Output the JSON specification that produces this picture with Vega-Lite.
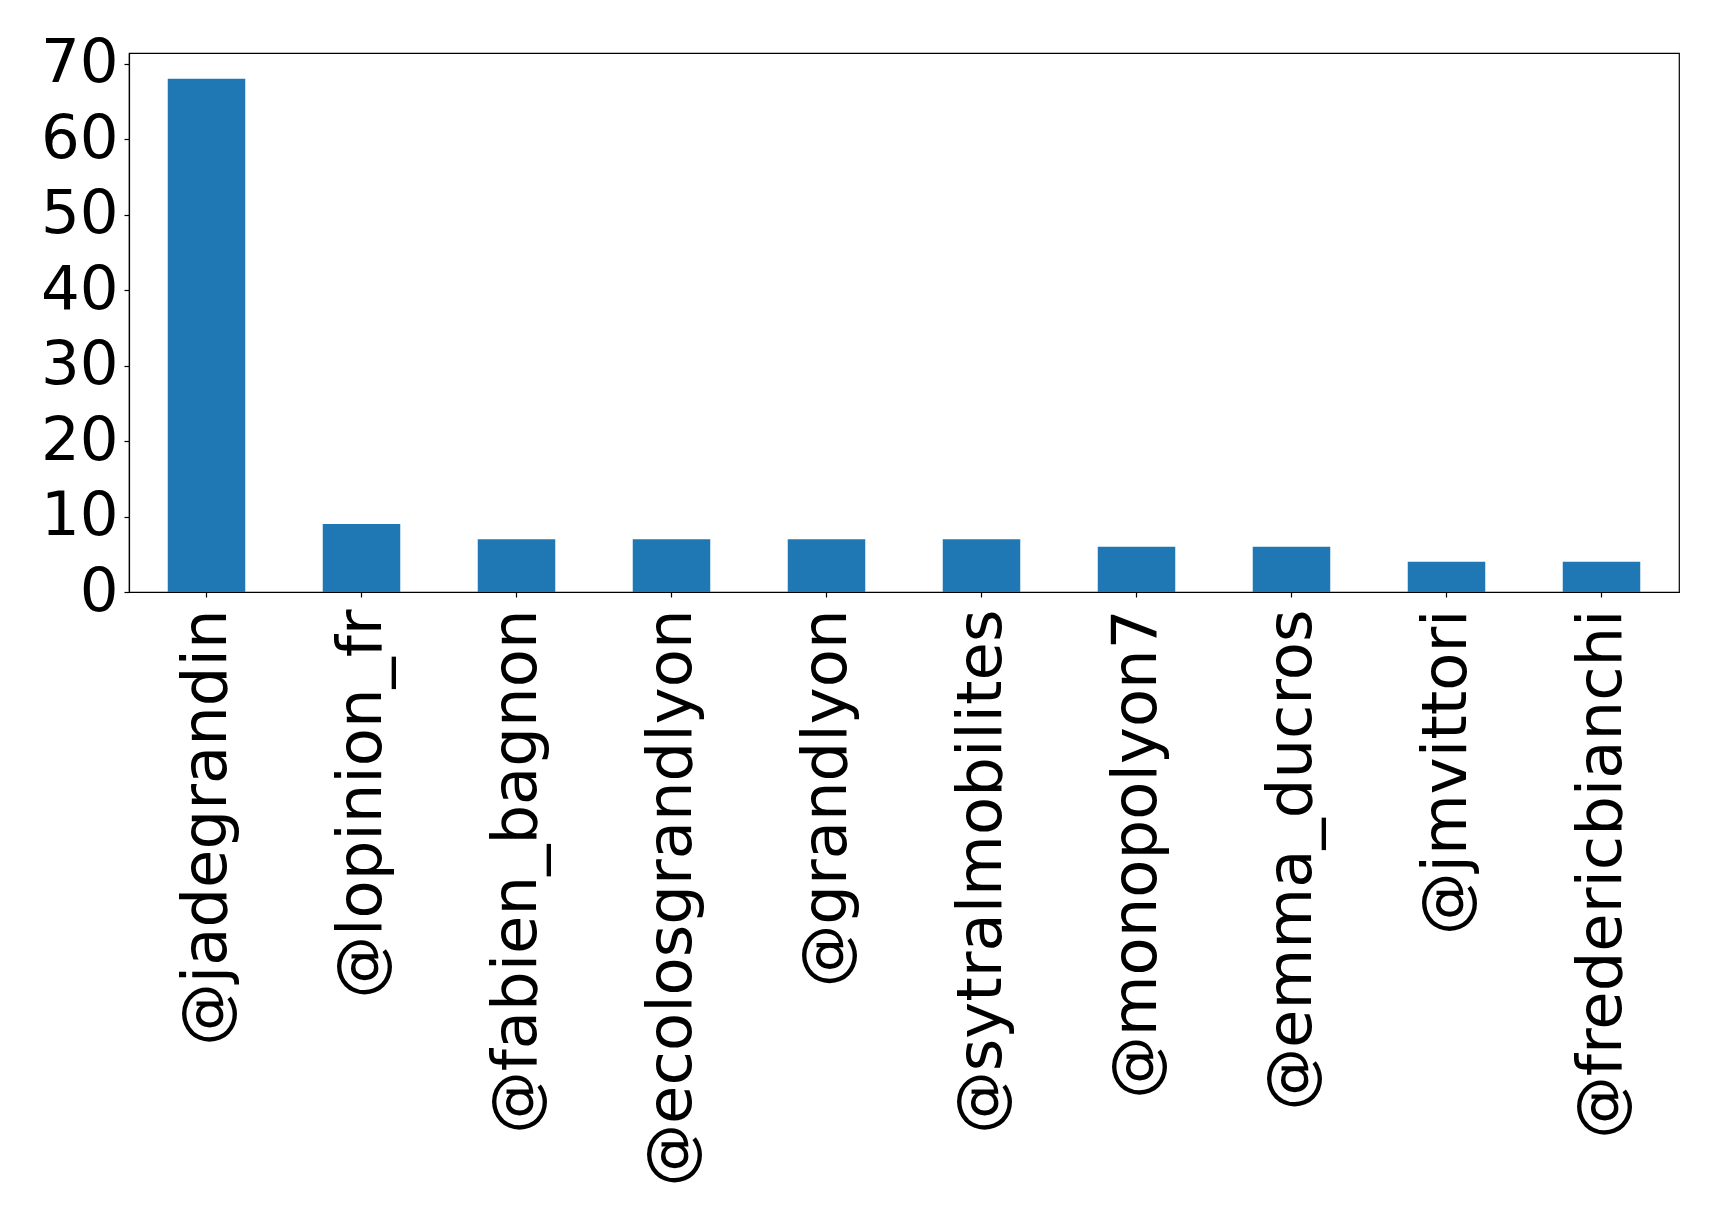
{
  "$schema": "https://vega.github.io/schema/vega-lite/v6.json",
  "width": 1550,
  "height": 539,
  "autosize": {"type": "none"},
  "padding": {"left": 129, "top": 53, "right": 40, "bottom": 626},
  "background": "white",
  "config": {
    "view": {"stroke": "black", "strokeWidth": 1.2},
    "font": "DejaVu Sans",
    "axis": {
      "grid": false,
      "domainColor": "black",
      "domainWidth": 1.2,
      "tickColor": "black",
      "tickWidth": 1.2,
      "tickSize": 5,
      "labelColor": "black",
      "labelFont": "DejaVu Sans",
      "labelFontSize": 62.5,
      "labelLimit": 0,
      "title": null
    }
  },
  "data": {
    "values": [
      {"account": "@jadegrandin", "count": 68},
      {"account": "@lopinion_fr", "count": 9},
      {"account": "@fabien_bagnon", "count": 7},
      {"account": "@ecolosgrandlyon", "count": 7},
      {"account": "@grandlyon", "count": 7},
      {"account": "@sytralmobilites", "count": 7},
      {"account": "@monopolyon7", "count": 6},
      {"account": "@emma_ducros", "count": 6},
      {"account": "@jmvittori", "count": 4},
      {"account": "@fredericbianchi", "count": 4}
    ]
  },
  "mark": {"type": "bar", "color": "#1f77b4"},
  "encoding": {
    "x": {
      "field": "account",
      "type": "nominal",
      "sort": null,
      "scale": {"paddingInner": 0.5, "paddingOuter": 0.25},
      "axis": {"labelAngle": -90, "labelAlign": "right", "labelBaseline": "middle", "labelPadding": 12}
    },
    "y": {
      "field": "count",
      "type": "quantitative",
      "scale": {"domain": [0, 71.4], "nice": false},
      "axis": {"values": [0, 10, 20, 30, 40, 50, 60, 70], "labelPadding": 6, "labelFontSize": 61}
    }
  }
}
